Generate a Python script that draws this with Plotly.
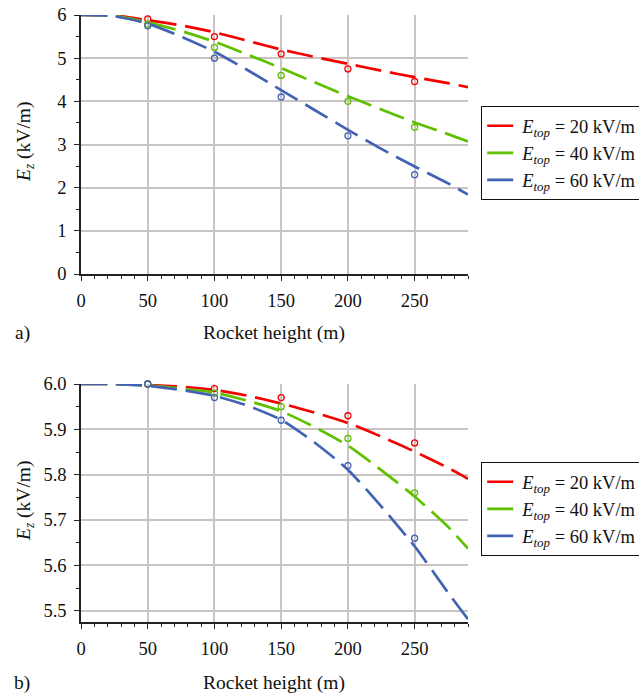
import plotly.graph_objects as go

# Rocket height samples for the model curves (m)
height_curve = [0, 25, 50, 75, 100, 125, 150, 175, 200, 225, 250, 275, 290]
# Heights of the measured points (m)
height_pts = [50, 100, 150, 200, 250]

# Panel a) model curves, Ez (kV/m)
a_curve_20 = [6.0, 5.99, 5.88, 5.76, 5.60, 5.40, 5.20, 5.03, 4.87, 4.71, 4.56, 4.42, 4.33]
a_curve_40 = [6.0, 5.98, 5.83, 5.63, 5.38, 5.08, 4.77, 4.44, 4.12, 3.81, 3.51, 3.24, 3.07]
a_curve_60 = [6.0, 5.97, 5.80, 5.50, 5.15, 4.72, 4.26, 3.80, 3.34, 2.90, 2.49, 2.10, 1.84]
# Panel a) points
a_pts_20 = [5.91, 5.50, 5.10, 4.75, 4.46]
a_pts_40 = [5.79, 5.25, 4.60, 4.00, 3.40]
a_pts_60 = [5.75, 5.00, 4.10, 3.20, 2.30]

# Panel b) model curves, Ez (kV/m)
b_curve_20 = [6.0, 6.0, 5.998, 5.994, 5.987, 5.974, 5.957, 5.937, 5.914, 5.884, 5.851, 5.815, 5.791]
b_curve_40 = [6.0, 6.0, 5.997, 5.990, 5.981, 5.963, 5.940, 5.905, 5.864, 5.810, 5.752, 5.685, 5.637]
b_curve_60 = [6.0, 6.0, 5.996, 5.987, 5.974, 5.952, 5.921, 5.871, 5.811, 5.730, 5.642, 5.540, 5.481]
# Panel b) points
b_pts_20 = [6.0, 5.99, 5.97, 5.93, 5.87]
b_pts_40 = [6.0, 5.98, 5.95, 5.88, 5.76]
b_pts_60 = [6.0, 5.97, 5.92, 5.82, 5.66]

series_names = [
    "<i>E</i><sub><i>top</i></sub> = 20 kV/m",
    "<i>E</i><sub><i>top</i></sub> = 40 kV/m",
    "<i>E</i><sub><i>top</i></sub> = 60 kV/m",
]
colors = ["#f40000", "#5fc000", "#4262b4"]

FONT = "Liberation Serif, Times New Roman, serif"
W, H = 639, 698

fig = go.Figure()

panels = [
    ("x", "y", "legend", [a_curve_20, a_curve_40, a_curve_60], [a_pts_20, a_pts_40, a_pts_60]),
    ("x2", "y2", "legend2", [b_curve_20, b_curve_40, b_curve_60], [b_pts_20, b_pts_40, b_pts_60]),
]
for xa, ya, lg, curves, pts in panels:
    for name, col, cv in zip(series_names, colors, curves):
        fig.add_trace(go.Scatter(
            x=height_curve, y=cv, mode="lines", name=name, legend=lg,
            line=dict(color=col, width=2.7, dash="26px,9px", shape="spline", smoothing=0.6),
            xaxis=xa, yaxis=ya, cliponaxis=True,
        ))
    for name, col, pv in zip(series_names, colors, pts):
        fig.add_trace(go.Scatter(
            x=height_pts, y=pv, mode="markers", showlegend=False,
            marker=dict(symbol="circle-open", size=6, color=col, line=dict(width=1.3, color=col)),
            xaxis=xa, yaxis=ya, cliponaxis=False,
        ))

def px_x(p):
    return p / W

def px_y(p):
    return 1 - p / H

grid = "#c9c3c3"
common_x = dict(
    range=[0, 290], tickvals=[0, 50, 100, 150, 200, 250], showgrid=True, gridcolor=grid, gridwidth=1.5,
    showline=True, linecolor="#222", linewidth=1.5, ticks="outside", ticklen=5, tickwidth=1.3,
    tickcolor="#222", tickfont=dict(family=FONT, size=18.5, color="#111"),
    minor=dict(dtick=10, ticks="outside", ticklen=3, tickcolor="#222", tickwidth=1, showgrid=False),
    zeroline=False, automargin=False, fixedrange=True, ticklabelstandoff=4,
)
common_y = dict(
    showgrid=True, gridcolor=grid, gridwidth=1.5,
    showline=True, linecolor="#222", linewidth=1.5, ticks="outside", ticklen=5, tickwidth=1.3,
    tickcolor="#222", tickfont=dict(family=FONT, size=18.5, color="#111"),
    zeroline=False, automargin=False, fixedrange=True, ticklabelstandoff=4,
)

legend_style = dict(
    xanchor="left", yanchor="top", bordercolor="#111", borderwidth=1.2, bgcolor="white",
    font=dict(family=FONT, size=18.5, color="#111"), tracegroupgap=0, itemwidth=30,
)

fig.update_layout(
    width=W, height=H, autosize=False,
    margin=dict(l=0, r=0, t=0, b=0, pad=0, autoexpand=False),
    paper_bgcolor="white", plot_bgcolor="white",
    font=dict(family=FONT, size=19, color="#111"),
    xaxis=dict(domain=[px_x(81), px_x(468)], anchor="y", **common_x),
    yaxis=dict(domain=[px_y(274), px_y(15)], anchor="x", range=[0, 6], dtick=1,
               minor=dict(dtick=0.5, ticks="outside", ticklen=3, tickcolor="#222", tickwidth=1, showgrid=False),
               **common_y),
    xaxis2=dict(domain=[px_x(81), px_x(468)], anchor="y2", **common_x),
    yaxis2=dict(domain=[px_y(622), px_y(384)], anchor="x2", range=[5.475, 6.0], dtick=0.1,
                tickformat=".1f",
                minor=dict(dtick=0.05, ticks="outside", ticklen=3, tickcolor="#222", tickwidth=1, showgrid=False),
                **common_y),
    legend=dict(x=px_x(481), y=px_y(106), **legend_style),
    legend2=dict(x=px_x(481), y=px_y(462), **legend_style),
)

annos = [
    dict(text="Rocket height (m)", x=px_x(274), y=px_y(333)),
    dict(text="Rocket height (m)", x=px_x(274), y=px_y(683)),
    dict(text="a)", x=px_x(22), y=px_y(333)),
    dict(text="b)", x=px_x(22), y=px_y(683)),
    dict(text="<i>E</i><sub><i>z</i></sub> (kV/m)", x=px_x(25), y=px_y(142), textangle=-90),
    dict(text="<i>E</i><sub><i>z</i></sub> (kV/m)", x=px_x(25), y=px_y(501), textangle=-90),
]
for a in annos:
    fig.add_annotation(xref="paper", yref="paper", showarrow=False, xanchor="center", yanchor="middle",
                       font=dict(family=FONT, size=19.5, color="#111"), **a)

fig.write_html("out.html", config={"responsive": False})
